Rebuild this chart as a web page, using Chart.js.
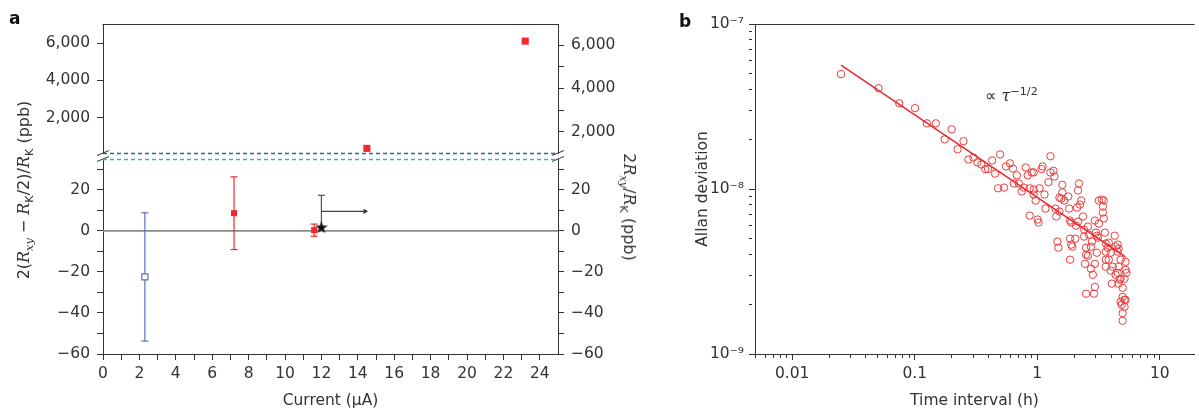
<!DOCTYPE html>
<html><head><meta charset="utf-8">
<script src="https://cdn.jsdelivr.net/npm/chart.js@4.4.0/dist/chart.umd.min.js"></script>
<style>
html,body{margin:0;padding:0;background:#fff;}
#wrap{position:relative;width:1199px;height:411px;overflow:hidden;font-family:'DejaVu Sans',sans-serif;color:#333;background:#fff;}
canvas{position:absolute;}
.lbl{position:absolute;white-space:nowrap;line-height:1;}
.rotl{transform:translate(-50%,-50%) rotate(-90deg);}
.rotr{transform:translate(-50%,-50%) rotate(90deg);}
i.v{font-family:'DejaVu Serif','Liberation Serif',serif;}
sub{font-size:70%;vertical-align:-0.35em;line-height:0;}
sup{font-size:70%;vertical-align:0.55em;line-height:0;}
</style></head><body>
<div id="wrap">
<canvas id="aTop" width="640" height="173" style="left:0;top:0"></canvas>
<canvas id="aBot" width="640" height="272" style="left:0;top:139px"></canvas>
<canvas id="bChart" width="559" height="411" style="left:640px;top:0"></canvas>
<div class="lbl" style="left:9px;top:9.5px;font-weight:bold;font-size:17px;color:#111">a</div>
<div class="lbl" style="left:679px;top:13px;font-weight:bold;font-size:17px;color:#111">b</div>
<div class="lbl rotl" style="left:24px;top:190px;font-size:16px">2(<i class="v">R</i><sub><i class="v">xy</i></sub> − <i class="v">R</i><sub>K</sub>/2)/<i class="v">R</i><sub>K</sub> (ppb)</div>
<div class="lbl rotr" style="left:629px;top:207px;font-size:16px">2<i class="v">R</i><sub><i class="v">xy</i></sub>/<i class="v">R</i><sub>K</sub> (ppb)</div>
<div class="lbl" style="left:985px;top:88px;font-size:16px">∝ <i class="v">τ</i><sup>−1/2</sup></div>
</div>
<script>
// ---------- Panel a data ----------
const highCurrents = [14.5, 23.2];          // µA
const highRatio = [1230, 6180];             // ppb (right top axis)
const redCurrents = [7.2, 11.6];
const redDev = [8.6, 0.3];
const redErrLow = [-9.1, -2.6];
const redErrHigh = [26.3, 3.3];
const blueCurrents = [2.3];
const blueDev = [-22.4];
const blueErrLow = [-53.7];
const blueErrHigh = [8.8];
const starCurrents = [12.0];
const starDev = [1.7];
const starErrHigh = [17.3];
const arrowY = 9.5, arrowStart = 12.0, arrowEnd = 14.4;
const zeroLineX = [0, 25];
const xTicksA = [0,1,2,3,4,5,6,7,8,9,10,11,12,13,14,15,16,17,18,19,20,21,22,23,24];
const topLeftTicks = [2000, 4000, 6000];
const topRightTicks = [2000, 3000, 4000, 5000, 6000];
const lowTicks = [-60, -50, -40, -30, -20, -10, 0, 10, 20, 30];

// ---------- Panel b data ----------
const tauH = [0.0250,0.0506,0.0747,0.1005,0.1256,0.1485,0.200,0.1755,0.250,0.2235,0.274,0.301,0.324,0.349,0.376,0.397,0.428,0.453,0.497,0.479,
0.535,0.555,0.598,0.633,0.681,0.644,0.707,0.747,0.805,0.835,0.900,0.934,0.867,0.934,0.969,0.867,1.005,1.024,1.083,1.104,
1.044,1.145,1.166,1.233,1.28,1.28,1.355,1.38,1.405,1.43,1.515,1.46,1.485,1.57,1.60,1.60,1.66,1.79,1.82,1.85,
1.85,2.04,1.93,1.85,2.11,2.19,2.15,2.28,2.23,2.36,2.15,2.07,2.41,2.59,2.50,2.59,2.45,2.74,2.95,2.84,
2.95,2.90,2.50,3.06,3.06,2.95,3.18,3.18,3.36,3.49,3.43,3.43,3.49,3.56,3.62,3.76,3.97,4.28,4.36,4.61,
3.83,4.12,4.05,4.53,4.70,5.25,5.35,5.15,4.97,5.15,4.88,5.15,4.97,4.97,
1.515,1.89,2.41,2.64,3.01,3.12,2.79,3.83,4.53,1.89,3.62,4.53,2.50,3.62,4.79,3.62,3.97,4.61,5.25,2.74,
4.36,4.79,4.61,4.97,5.25,4.79,0.776,0.934];
const allanDev1e9 = [49.7,40.8,33.1,30.9,25.0,25.0,23.0,20.0,19.5,17.4,15.1,15.5,14.5,14.1,13.2,13.2,14.9,12.4,16.2,10.1,
10.2,13.7,14.3,13.3,12.1,10.8,10.8,9.66,13.5,12.1,12.6,12.6,10.1,9.93,8.51,6.90,6.53,6.26,13.2,13.7,
10.1,9.26,7.61,11.0,15.8,12.6,12.9,11.9,7.61,6.81,7.30,4.80,4.41,8.75,10.6,9.52,8.51,9.00,7.61,6.44,
5.00,5.00,4.47,3.73,7.72,10.8,9.80,8.51,8.05,6.81,6.34,6.00,5.15,5.92,4.41,3.94,3.52,4.47,3.52,3.02,
2.55,2.32,2.32,4.11,5.21,6.44,6.17,8.51,8.63,8.51,7.83,7.20,6.62,5.44,4.67,4.41,4.11,5.21,4.47,4.35,
3.73,3.38,2.67,3.10,2.82,3.62,3.10,2.86,2.22,2.13,1.99,1.93,1.77,1.59,
8.87,6.26,5.67,5.29,5.44,5.07,4.80,4.73,4.60,4.60,4.17,4.17,4.00,3.73,3.73,3.38,3.20,3.38,3.24,3.29,
3.02,2.86,2.67,2.52,2.13,2.07,10.2,9.26];
const fitTau = [0.025, 5.25];
const fitDev1e9 = [56.3, 3.88];
const xDecadesB = [0.001, 0.01, 0.1, 1, 10];
const xLabelsB = [0.01, 0.1, 1, 10];
const yDecadesB = [1e-9, 1e-8, 1e-7];

// ---------- helpers ----------
const AX = '#333';
const FONT = {family: "'DejaVu Sans', sans-serif", size: 15.5};
Chart.defaults.font.family = FONT.family;
Chart.defaults.font.size = FONT.size;
Chart.defaults.color = AX;
const minus = v => (v < 0 ? '\u2212' + Math.abs(v) : String(v));
const fixTicks = list => (s => { s.ticks = list.map(v => ({value: v})); });
function grid(minorFn) {
  const g = {display: true, drawOnChartArea: false, drawTicks: true, tickLength: 6, tickColor: AX, tickWidth: 1, color: AX};
  if (minorFn) g.tickBorderDash = c => (c.tick && minorFn(c.tick.value)) ? [3, 40] : [];
  return g;
}
const border = {display: true, color: AX, width: 1};
const isPow10 = v => Math.abs(Math.log10(v) - Math.round(Math.log10(v))) < 1e-9;
const supMap = {'-': '\u207B', '0': '\u2070', '1': '\u00B9', '2': '\u00B2', '3': '\u00B3', '4': '\u2074', '5': '\u2075', '6': '\u2076', '7': '\u2077', '8': '\u2078', '9': '\u2079'};
const pow10Label = v => '10' + String(Math.round(Math.log10(v))).split('').map(ch => supMap[ch]).join('');

const framePlugin = {
  id: 'frame',
  afterDraw(chart, args, opts) {
    const {ctx, chartArea: a} = chart;
    ctx.save();
    if (opts.top) {
      ctx.strokeStyle = AX; ctx.lineWidth = 1;
      ctx.beginPath(); ctx.moveTo(a.left - 0.5, a.top + 0.5); ctx.lineTo(a.right + 0.5, a.top + 0.5); ctx.stroke();
    }
    if (opts.dash) {
      ctx.strokeStyle = opts.dash.color; ctx.lineWidth = 1.3; ctx.setLineDash([4, 3]);
      const y = Math.round(opts.dash.edge === 'bottom' ? a.bottom : a.top) + 0.5;
      ctx.beginPath(); ctx.moveTo(a.left, y); ctx.lineTo(a.right, y); ctx.stroke();
      ctx.setLineDash([]);
    }
    if (opts.breaks) {
      ctx.strokeStyle = AX; ctx.lineWidth = 1;
      [a.left, a.right].forEach(x => {
        [a.bottom, a.bottom + 6].forEach(y => {
          ctx.beginPath(); ctx.moveTo(x - 6, y + 2.5); ctx.lineTo(x + 6, y - 2.5); ctx.stroke();
        });
      });
    }
    ctx.restore();
  }
};

// star marker image
const starImg = document.createElement('canvas');
starImg.width = 14; starImg.height = 14;
(() => {
  const c = starImg.getContext('2d'); c.fillStyle = '#111'; c.beginPath();
  for (let i = 0; i < 10; i++) {
    const r = i % 2 ? 2.6 : 6.6, ang = -Math.PI / 2 + i * Math.PI / 5;
    const px = 7 + r * Math.cos(ang), py = 7.4 + r * Math.sin(ang);
    i ? c.lineTo(px, py) : c.moveTo(px, py);
  }
  c.closePath(); c.fill();
})();

const RED = '#ee2a2e', BLUE = '#5b6fbf';

// ---------- Panel a, top segment ----------
new Chart(document.getElementById('aTop'), {
  type: 'scatter',
  data: {datasets: [{
    data: highCurrents.map((x, i) => ({x, y: highRatio[i]})), yAxisID: 'y2',
    pointStyle: 'rect', pointRadius: 5, backgroundColor: RED, borderColor: RED, borderWidth: 0
  }]},
  options: {
    responsive: false, animation: false, events: [],
    layout: {padding: {top: 24, bottom: 20, left: 0, right: 0}},
    plugins: {legend: {display: false}, tooltip: {enabled: false},
      frame: {top: true, dash: {edge: 'bottom', color: '#1d7378'}, breaks: true}},
    scales: {
      x: {type: 'linear', min: 0, max: 25, display: false},
      y: {type: 'linear', position: 'left', min: 109, max: 7018, afterBuildTicks: fixTicks(topLeftTicks), afterFit: s => { s.width = 103; },
        ticks: {padding: 7, autoSkip: false, callback: v => v.toLocaleString('en-US')}, grid: grid(), border},
      y2: {type: 'linear', position: 'right', min: 1017, max: 6969, afterBuildTicks: fixTicks(topRightTicks), afterFit: s => { s.width = 82; },
        ticks: {padding: 7, autoSkip: false, callback: v => (v % 2000 === 0 ? v.toLocaleString('en-US') : '')}, grid: grid(), border}
    }
  },
  plugins: [framePlugin]
});

// ---------- Panel a, bottom segment ----------
const errBar = (x, lo, hi, color, capLo = true) => ({
  type: 'line', data: [{x, y: lo}, {x, y: hi}], borderColor: color, borderWidth: 1.2,
  pointStyle: 'line', pointRadius: capLo ? [3.5, 3.5] : [0, 3.5], pointBorderWidth: 1.2, pointBorderColor: color, order: 5
});
const lowSets = [
  {type: 'line', data: zeroLineX.map(x => ({x, y: 0})), borderColor: '#8a8a8a', borderWidth: 1.8, pointRadius: 0, order: 20},
  ...blueCurrents.map((x, i) => errBar(x, blueErrLow[i], blueErrHigh[i], BLUE)),
  ...redCurrents.map((x, i) => errBar(x, redErrLow[i], redErrHigh[i], RED)),
  ...starCurrents.map((x, i) => errBar(x, starDev[i], starErrHigh[i], '#555', false)),
  {type: 'line', data: [{x: arrowStart, y: arrowY}, {x: arrowEnd, y: arrowY}], borderColor: '#444', borderWidth: 1.2,
    pointStyle: 'triangle', pointRadius: [0, 3], pointRotation: 90, pointBackgroundColor: '#333', pointBorderColor: '#333', pointBorderWidth: 0, order: 4},
  {type: 'scatter', data: blueCurrents.map((x, i) => ({x, y: blueDev[i]})), pointStyle: 'rect', pointRadius: 4.3,
    backgroundColor: '#fff', borderColor: BLUE, borderWidth: 1.2, order: 2},
  {type: 'scatter', data: redCurrents.map((x, i) => ({x, y: redDev[i]})), pointStyle: 'rect', pointRadius: 4.3,
    backgroundColor: RED, borderColor: RED, borderWidth: 0, order: 2},
  {type: 'scatter', data: starCurrents.map((x, i) => ({x, y: starDev[i]})), pointStyle: starImg, pointRadius: 7, order: 0}
];
new Chart(document.getElementById('aBot'), {
  type: 'scatter',
  data: {datasets: lowSets},
  options: {
    responsive: false, animation: false, events: [],
    layout: {padding: {top: 20, bottom: 0, left: 0, right: 0}},
    plugins: {legend: {display: false}, tooltip: {enabled: false}, frame: {dash: {edge: 'top', color: '#45aeb4'}}},
    scales: {
      x: {type: 'linear', min: 0, max: 25, afterBuildTicks: fixTicks(xTicksA), afterFit: s => { s.height = 57; },
        ticks: {padding: 5, autoSkip: false, maxRotation: 0, callback: v => (v % 2 === 0 ? String(v) : '')}, grid: grid(), border,
        title: {display: true, text: 'Current (µA)', padding: {top: 0, bottom: 1}, color: AX}},
      y: {type: 'linear', position: 'left', min: -60, max: 35, afterBuildTicks: fixTicks(lowTicks), afterFit: s => { s.width = 103; },
        ticks: {padding: 7, autoSkip: false, callback: v => (v % 20 === 0 ? minus(v) : '')}, grid: grid(), border},
      y2: {type: 'linear', position: 'right', min: -60, max: 35, afterBuildTicks: fixTicks(lowTicks), afterFit: s => { s.width = 82; },
        ticks: {padding: 7, autoSkip: false, callback: v => (v % 20 === 0 ? minus(v) : '')}, grid: grid(), border}
    }
  },
  plugins: [framePlugin]
});

// ---------- Panel b ----------
const xTickListB = [];
xDecadesB.forEach(d => { for (let m = 1; m <= 9; m++) { const v = +(m * d).toPrecision(6); if (v >= 0.00497 && v <= 19) xTickListB.push(v); } });
const yTickListB = [];
yDecadesB.forEach(d => { for (let m = 1; m <= 9; m++) { const v = +(m * d).toPrecision(6); if (v >= 1e-9 && v <= 1e-7 * 1.0001) yTickListB.push(v); } });

new Chart(document.getElementById('bChart'), {
  type: 'scatter',
  data: {datasets: [
    {type: 'line', data: fitTau.map((x, i) => ({x, y: fitDev1e9[i] * 1e-9})), borderColor: '#e8262b', borderWidth: 1.5, pointRadius: 0, order: 1},
    {type: 'scatter', data: tauH.map((x, i) => ({x, y: allanDev1e9[i] * 1e-9})), pointStyle: 'circle', pointRadius: 3.7,
      backgroundColor: 'rgba(0,0,0,0)', borderColor: '#f03a3a', borderWidth: 1, order: 2}
  ]},
  options: {
    responsive: false, animation: false, events: [],
    layout: {padding: {top: 24, bottom: 0, left: 0, right: 0}},
    plugins: {legend: {display: false}, tooltip: {enabled: false}, frame: {top: true}},
    scales: {
      x: {type: 'logarithmic', min: 0.00497, max: 19, afterBuildTicks: fixTicks(xTickListB), afterFit: s => { s.height = 57; },
        ticks: {padding: 5, autoSkip: false, maxRotation: 0, callback: v => (xLabelsB.some(l => Math.abs(l - v) < l * 1e-6) ? String(v) : '')},
        grid: grid(v => !isPow10(v)), border,
        title: {display: true, text: 'Time interval (h)', padding: {top: 0, bottom: 1}, color: AX}},
      y: {type: 'logarithmic', min: 1e-9, max: 1e-7, afterBuildTicks: fixTicks(yTickListB), afterFit: s => { s.width = 115; },
        ticks: {padding: 5, autoSkip: false, callback: v => (isPow10(v) ? pow10Label(v) : '')},
        grid: grid(v => !isPow10(v)), border,
        title: {display: true, text: 'Allan deviation', padding: {top: 54, bottom: 0}, color: AX}}
    }
  },
  plugins: [framePlugin]
});
</script>
</body></html>
